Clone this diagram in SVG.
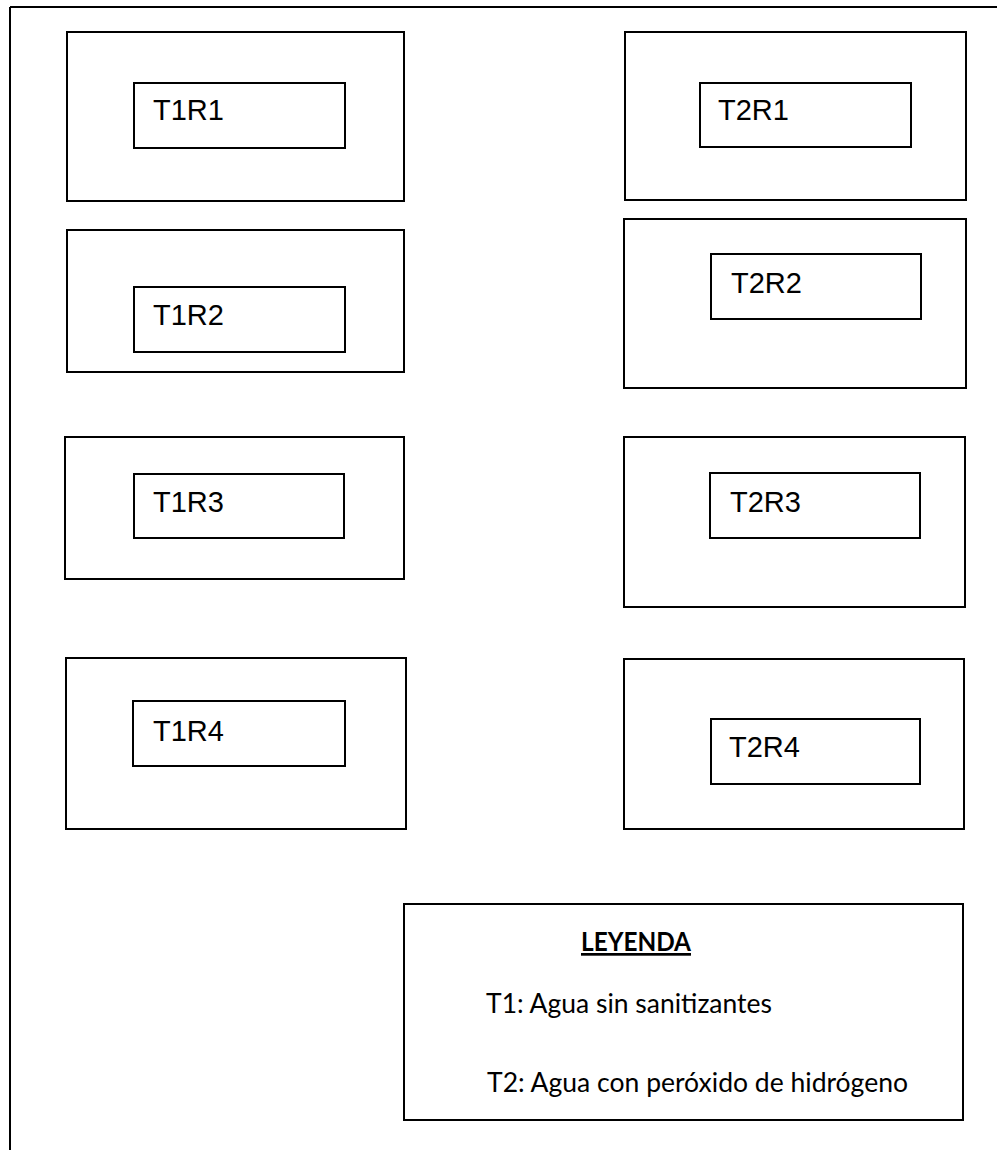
<svg xmlns="http://www.w3.org/2000/svg" width="997" height="1150" viewBox="0 0 997 1150">
<style>
.b{fill:none;stroke:#000;stroke-width:2}
.t{font-family:"Liberation Sans",Arial,sans-serif;font-size:29px;fill:#000}
.l{font-family:Lato,"Noto Sans",sans-serif;font-size:27px;fill:#000}
</style>
<rect width="997" height="1150" fill="#fff"/>
<g id="page-border"><line x1="10" y1="7" x2="997" y2="7" class="b"/><line x1="10" y1="7" x2="10" y2="1150" class="b"/></g>
<g id="T1R1"><rect x="67" y="32" width="337" height="169" class="b"/><rect x="134" y="83" width="211" height="65" class="b"/><text x="153" y="120" class="t">T1R1</text></g>
<g id="T2R1"><rect x="625" y="32" width="341" height="168" class="b"/><rect x="700" y="83" width="211" height="64" class="b"/><text x="718" y="120" class="t">T2R1</text></g>
<g id="T1R2"><rect x="67" y="230" width="337" height="142" class="b"/><rect x="134" y="287" width="211" height="65" class="b"/><text x="153" y="325" class="t">T1R2</text></g>
<g id="T2R2"><rect x="624" y="219" width="342" height="169" class="b"/><rect x="711" y="254" width="210" height="65" class="b"/><text x="731" y="293" class="t">T2R2</text></g>
<g id="T1R3"><rect x="65" y="437" width="339" height="142" class="b"/><rect x="134" y="474" width="210" height="64" class="b"/><text x="153" y="512" class="t">T1R3</text></g>
<g id="T2R3"><rect x="624" y="437" width="341" height="170" class="b"/><rect x="710" y="473" width="210" height="65" class="b"/><text x="730" y="512" class="t">T2R3</text></g>
<g id="T1R4"><rect x="66" y="658" width="340" height="171" class="b"/><rect x="133" y="701" width="212" height="65" class="b"/><text x="153" y="741" class="t">T1R4</text></g>
<g id="T2R4"><rect x="624" y="659" width="340" height="170" class="b"/><rect x="711" y="719" width="209" height="65" class="b"/><text x="729" y="757" class="t">T2R4</text></g>
<g id="legend"><rect x="404" y="904" width="559" height="216" class="b"/>
<text x="581" y="951" class="l" font-weight="bold" text-decoration="underline" textLength="110" lengthAdjust="spacingAndGlyphs">LEYENDA</text>
<text x="486" y="1013" class="l" textLength="286" lengthAdjust="spacingAndGlyphs">T1: Agua sin sanitizantes</text>
<text x="487" y="1092" class="l" textLength="421" lengthAdjust="spacingAndGlyphs">T2: Agua con peróxido de hidrógeno</text>
</g>
<g id="connectors"/>
</svg>
